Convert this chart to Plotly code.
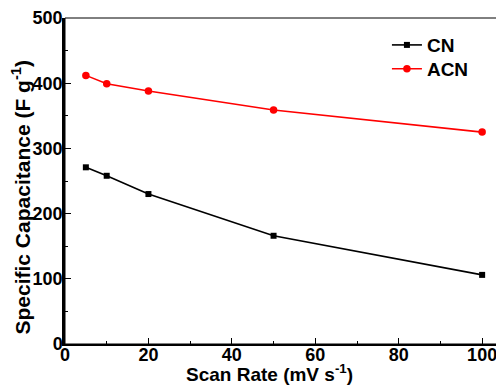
import plotly.graph_objects as go

scan_rate = [5, 10, 20, 50, 100]
cn = [271, 258, 230, 166, 106]
acn = [412, 399, 388, 359, 325]

FONT = "Arial, Liberation Sans, sans-serif"

fig = go.Figure()
fig.add_trace(go.Scatter(x=scan_rate, y=cn, name="CN", mode="lines+markers",
                         line=dict(color="black", width=1.6),
                         marker=dict(symbol="square", size=6, color="black"),
                         legend="legend"))
fig.add_trace(go.Scatter(x=scan_rate, y=acn, name="ACN", mode="lines+markers",
                         line=dict(color="#ff0000", width=1.6),
                         marker=dict(symbol="circle", size=7.5, color="#ff0000"),
                         legend="legend2"))

fig.add_shape(type="rect", xref="paper", yref="paper", x0=0, y0=0, x1=0.997, y1=1,
              line=dict(color="black", width=1), layer="below")

leg_font = dict(family=FONT, size=19, color="black", weight="bold")
title_font = dict(family=FONT, color="black", weight="bold")

fig.add_annotation(text="Scan Rate (mV s<sup>-1</sup>)", xref="paper", yref="paper",
                   x=0.466, y=-0.088, xanchor="center", yanchor="middle", showarrow=False,
                   font=dict(size=19, **title_font))
fig.add_annotation(text="Specific Capacitance (F g<sup>-1</sup>)", xref="paper", yref="paper",
                   x=-0.1, y=0.45, xanchor="center", yanchor="middle", showarrow=False,
                   textangle=-90, font=dict(size=21, **title_font))

fig.update_layout(
    width=496, height=379,
    margin=dict(l=57, r=1, t=10, b=43),
    paper_bgcolor="white", plot_bgcolor="white",
    font=dict(family=FONT, size=18, color="black"),
    showlegend=True,
    legend=dict(x=0.735, y=0.917, xanchor="left", yanchor="middle",
                font=leg_font, bgcolor="rgba(0,0,0,0)"),
    legend2=dict(x=0.735, y=0.844, xanchor="left", yanchor="middle",
                 font=leg_font, bgcolor="rgba(0,0,0,0)"),
    xaxis=dict(range=[0, 105], tickvals=[0, 20, 40, 60, 80, 100],
               ticks="inside", ticklen=6, tickwidth=1.2, tickcolor="black",
               minor=dict(dtick=10, ticks="inside", ticklen=3, tickwidth=1.2, tickcolor="black"),
               showline=True, linecolor="black", linewidth=2,
               showgrid=False, zeroline=False, automargin=False,
               ticklabelstandoff=-7,
               tickfont=dict(family=FONT, size=18, color="black", weight="bold")),
    yaxis=dict(range=[0, 500], tickvals=[0, 100, 200, 300, 400, 500],
               ticks="inside", ticklen=6, tickwidth=1.2, tickcolor="black",
               minor=dict(dtick=50, ticks="inside", ticklen=3, tickwidth=1.2, tickcolor="black"),
               showline=True, linecolor="black", linewidth=2.5,
               showgrid=False, zeroline=False, automargin=False,
               ticklabelstandoff=-4,
               tickfont=dict(family=FONT, size=18, color="black", weight="bold")),
)

fig.write_html("out.html")
